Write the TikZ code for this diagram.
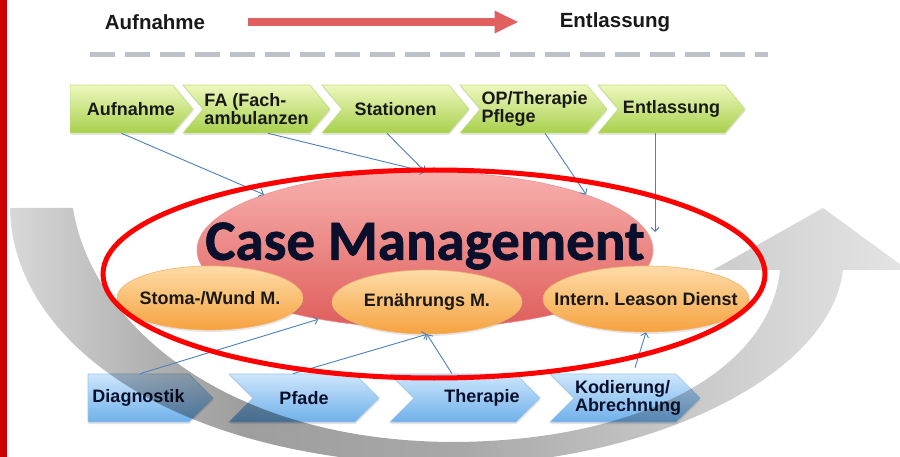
\documentclass[tikz,border=0pt]{standalone}
\usepackage{fontspec}
\setmainfont{Liberation Sans}
\newfontfamily\casefont{Carlito}[BoldFeatures={FakeBold=1.2}]
\usepackage{tikz}
\usetikzlibrary{arrows.meta}
\usetikzlibrary{shapes.geometric,shapes.symbols}
\usetikzlibrary{shadows}
\usepackage{xcolor}
\frenchspacing

\definecolor{barred}{HTML}{CC0000}
\definecolor{flowred}{HTML}{E0605F}
\definecolor{dashgrey}{HTML}{BCC2C8}
\definecolor{greentop}{HTML}{EDF8BE}
\definecolor{greenbot}{HTML}{A8D04C}
\definecolor{greenline}{HTML}{C2DC86}
\definecolor{bluetop}{HTML}{CDE6FC}
\definecolor{bluebot}{HTML}{6FB0EA}
\definecolor{blueline}{HTML}{9CC4EA}
\definecolor{pinktop}{HTML}{F7B0AD}
\definecolor{pinkbot}{HTML}{DF5D5B}
\definecolor{pinkline}{HTML}{E99290}
\definecolor{orangetop}{HTML}{FDDCA8}
\definecolor{orangebot}{HTML}{F6A23F}
\definecolor{orangeline}{HTML}{F3B26E}
\definecolor{connblue}{HTML}{4C7FBC}
\definecolor{casenavy}{HTML}{0A102C}
\definecolor{swA}{HTML}{D8D8D8}
\definecolor{swB}{HTML}{B0B0B0}
\definecolor{swC}{HTML}{9E9E9E}
\definecolor{swD}{HTML}{A8A8A8}
\definecolor{swE}{HTML}{C4C4C4}
\definecolor{swF}{HTML}{D8D8D8}
\definecolor{swG}{HTML}{E4E4E4}

\pgfdeclarehorizontalshading{swoosh}{100bp}{color(0bp)=(swA); color(25bp)=(swA);
  color(33bp)=(swB); color(38bp)=(swC); color(50bp)=(swD); color(61bp)=(swE);
  color(69bp)=(swF); color(75bp)=(swG); color(100bp)=(swG)}

\begin{document}
\begin{tikzpicture}[x=1pt, y=-1pt, >={Straight Barb[length=4pt,width=8pt]},
    headtext/.style={inner sep=0pt, font=\bfseries\fontsize{20.5}{24}\selectfont, text=black!90},
    flowarrow/.style={-{Triangle[length=24pt,width=21pt]}, line width=8pt, draw=flowred,
      shorten <=43pt, shorten >=41pt},
    chevron/.style={signal, signal to=east, signal from=west, minimum height=48pt,
      inner sep=0pt, align=left, font=\bfseries\fontsize{18}{18}\selectfont, line width=0.6pt,
      drop shadow={opacity=0.2, shadow xshift=0.5pt, shadow yshift=-2pt}},
    greenstep/.style={chevron, signal pointer angle=100, minimum width=147pt,
      top color=greentop, bottom color=greenbot, draw=greenline, text=black!90},
    bluestep/.style={chevron, signal pointer angle=90, minimum width=150pt,
      top color=bluetop, bottom color=bluebot, draw=blueline, text=casenavy},
    hub/.style={ellipse, minimum width=456pt, minimum height=156pt,
      top color=pinktop, bottom color=pinkbot, draw=pinkline, line width=0.6pt},
    hubtext/.style={inner sep=0pt, font=\casefont\bfseries\fontsize{57}{57}\selectfont, text=casenavy},
    partell/.style={ellipse, inner sep=0pt, top color=orangetop, bottom color=orangebot,
      draw=orangeline, line width=0.6pt,
      drop shadow={opacity=0.2, shadow xshift=0.5pt, shadow yshift=-2pt}},
    parttext/.style={inner sep=0pt, font=\bfseries\fontsize{18}{18}\selectfont, text=black!90},
    conn/.style={->, draw=connblue, line width=0.9pt},
    focusring/.style={ellipse, draw=red, line width=5pt, minimum width=662pt, minimum height=208pt}]
  \useasboundingbox (0,0) rectangle (900,457);
  \fill[barred] (0,0) rectangle (7,457);

  \node[headtext] (hauf) at (155,22) {Aufnahme};
  \node[headtext] (hent) at (615,22) {Entlassung};
  \draw[flowarrow] (hauf) -- (hent);
  \draw[dashgrey, line width=5pt, dash pattern=on 25pt off 10pt] (90,55) -- (768,55);

  \node[greenstep, signal from=nowhere, minimum width=123pt] (aufn) at (121.5,109)
    {\hspace*{9.5pt}Aufnahme\hspace*{-9.5pt}};
  \node[greenstep] (fa) at (256.5,109) {FA (Fach-\\ambulanzen};
  \node[greenstep] (stat) at (395.5,109) {Stationen};
  \node[greenstep, text width=104pt] (op) at (533.5,109) {OP/Therapie\\Pflege};
  \node[greenstep] (entl) at (671.5,109) {Entlassung};

  \node[bluestep, signal from=nowhere, minimum width=125pt] (diag) at (138.5,398) {Diagnostik};
  \node[bluestep] (pfade) at (304,398) {Pfade};
  \node[bluestep] (ther) at (465,398) {\hspace*{17pt}Therapie\hspace*{-17pt}};
  \node[bluestep, text width=100pt] (kod) at (625,398) {Kodierung/\\Abrechnung};

  \shade[shading=swoosh, blend mode=multiply]
    (10,208) .. controls (12,340) and (170,462) .. (450,465)
    .. controls (640,465) and (830,380) .. (843,270)
    -- (908,270) -- (823,208) -- (713,270) -- (780,270)
    .. controls (770,370) and (640,442) .. (450,442)
    .. controls (220,440) and (90,320) .. (73,208) -- cycle;

  \node[hub] (cm) at (425,250) {};
  \node[hubtext] (cmtext) at (425,246) {Case Management};

  \node[partell, minimum width=186pt, minimum height=64pt] (stoma) at (210,298) {};
  \node[parttext] (stomatext) at (stoma) {Stoma-/Wund M.};
  \node[partell, minimum width=190pt, minimum height=64pt] (ern) at (427,302) {};
  \node[parttext] (erntext) at (ern) {Ernährungs M.};
  \node[partell, minimum width=206pt, minimum height=66pt] (intern) at (646,299) {};
  \node[parttext] (interntext) at (intern) {Intern. Leason Dienst};

  \coordinate (cmside) at (655,232);
  \draw[conn] (aufn.south) -- (cm.161);
  \draw[conn] ([xshift=11.5pt]fa.south) -- (cm.north);
  \draw[conn] ([xshift=-8.5pt]stat.south) -- (cm.north);
  \draw[conn] ([xshift=11.5pt]op.south) -- (cm.19);
  \draw[conn] ([xshift=-16.5pt]entl.south) -- (cmside);
  \draw[conn] ([xshift=1.5pt]diag.north) -- (cm.213);
  \draw[conn] ([xshift=-11pt]pfade.north) -- (ern.south);
  \draw[conn] ([xshift=-13pt]ther.north) -- (ern.south);
  \draw[conn] ([xshift=10pt,yshift=6pt]kod.north) -- (intern.south);

  \node[focusring] (ring) at (434,274) {};
\end{tikzpicture}
\end{document}
